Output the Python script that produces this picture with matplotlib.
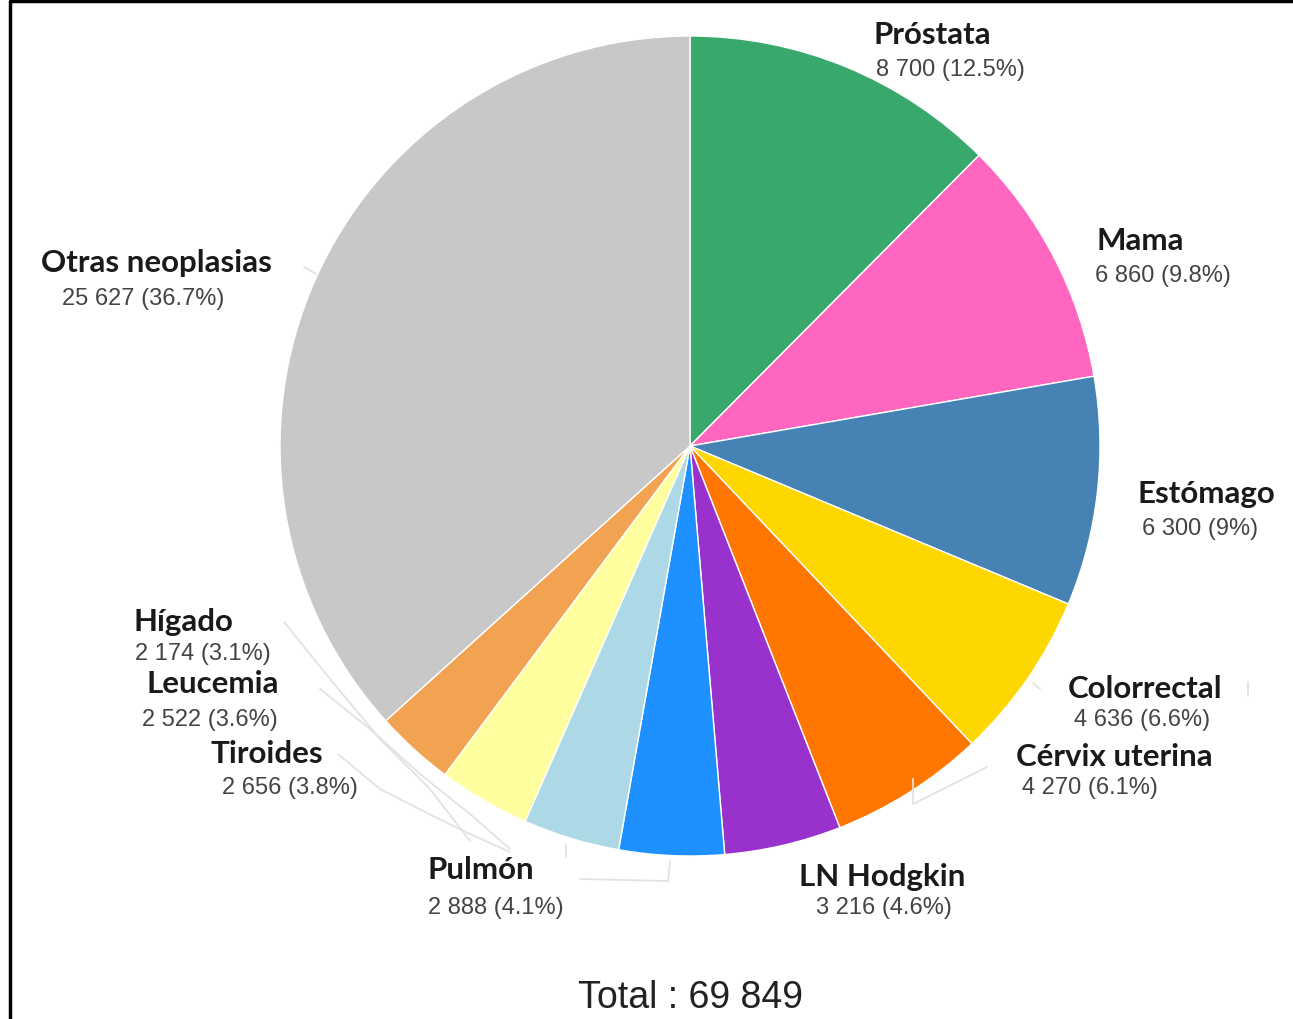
import matplotlib.pyplot as plt

# Casos de cancer por localizacion
names = ['Próstata', 'Mama', 'Estómago', 'Colorrectal', 'Cérvix uterina',
         'LN Hodgkin', 'Pulmón', 'Tiroides', 'Leucemia', 'Hígado',
         'Otras neoplasias']
cases = [8700, 6860, 6300, 4636, 4270, 3216, 2888, 2656, 2522, 2174, 25627]
percents = ['12.5%', '9.8%', '9%', '6.6%', '6.1%', '4.6%', '4.1%', '3.8%',
            '3.6%', '3.1%', '36.7%']
total = 69849

colors = ['#38a86c', '#ff66c0', '#4682b4', '#ffd700', '#ff7700', '#9932cc',
          '#1e90ff', '#add8e6', '#ffffa0', '#f2a352', '#c8c8c8']

W, H = 1293, 1020


def Y(y):
    # pixel row (from top) -> data y
    return H - y


# label positions in pixels: (name x, name y, value x, value y)
label_pos = [(932, 35, 950, 70), (1140, 241, 1163, 276), (1206, 494, 1200, 529),
             (1145, 689, 1142, 720), (1114, 757, 1090, 788), (882, 877, 884, 908),
             (481, 870, 496, 908), (267, 754, 290, 788), (213, 684, 210, 720),
             (183, 622, 203, 654), (156, 263, 143, 299)]


def fmt(n):
    return f'{n:,}'.replace(',', ' ')


fig = plt.figure(figsize=(W / 100, H / 100), dpi=100)
ax = fig.add_axes([0, 0, 1, 1])
ax.pie(cases, colors=colors, startangle=90, counterclock=False,
       center=(690, Y(447)), radius=410,
       wedgeprops=dict(edgecolor='white', linewidth=1))
ax.set_xlim(0, W)
ax.set_ylim(0, H)
ax.set_aspect('equal')
ax.axis('off')

for i in range(len(names)):
    nx, ny, vx, vy = label_pos[i]
    ax.text(nx, Y(ny), names[i], ha='center', va='center', fontsize=22.5,
            fontweight='bold', family='Lato', color='#1a1a1a')
    ax.text(vx, Y(vy), f'{fmt(cases[i])} ({percents[i]})', ha='center',
            va='center', fontsize=17, family='Liberation Sans', color='#444444')

# leader lines, very faint
lc = '#e2e2e2'
leaders = [
    ([304, 316], [268, 275]),
    ([284, 330, 380, 430, 470], [623, 680, 740, 790, 842]),
    ([320, 370, 420, 470, 510], [690, 730, 775, 815, 850]),
    ([338, 380, 433, 470, 510], [755, 790, 817, 835, 853]),
    ([566, 566], [845, 858]),
    ([580, 668, 670], [880, 882, 862]),
    ([913, 913, 987], [780, 805, 768]),
    ([1033, 1040], [684, 690]),
    ([1248, 1248], [683, 697]),
]
for xs, ys in leaders:
    ax.plot(xs, [Y(v) for v in ys], color=lc, lw=1.3, solid_capstyle='round')

ax.text(690, Y(998), f'Total : {fmt(total)}', ha='center', va='center',
        fontsize=27, family='Liberation Sans', color='#222222')

# frame on the top and left side only
ax.plot([10, 10, W], [Y(H), Y(2), Y(2)], color='black', lw=2.5,
        clip_on=False)

fig.savefig('out.png', dpi=100)
